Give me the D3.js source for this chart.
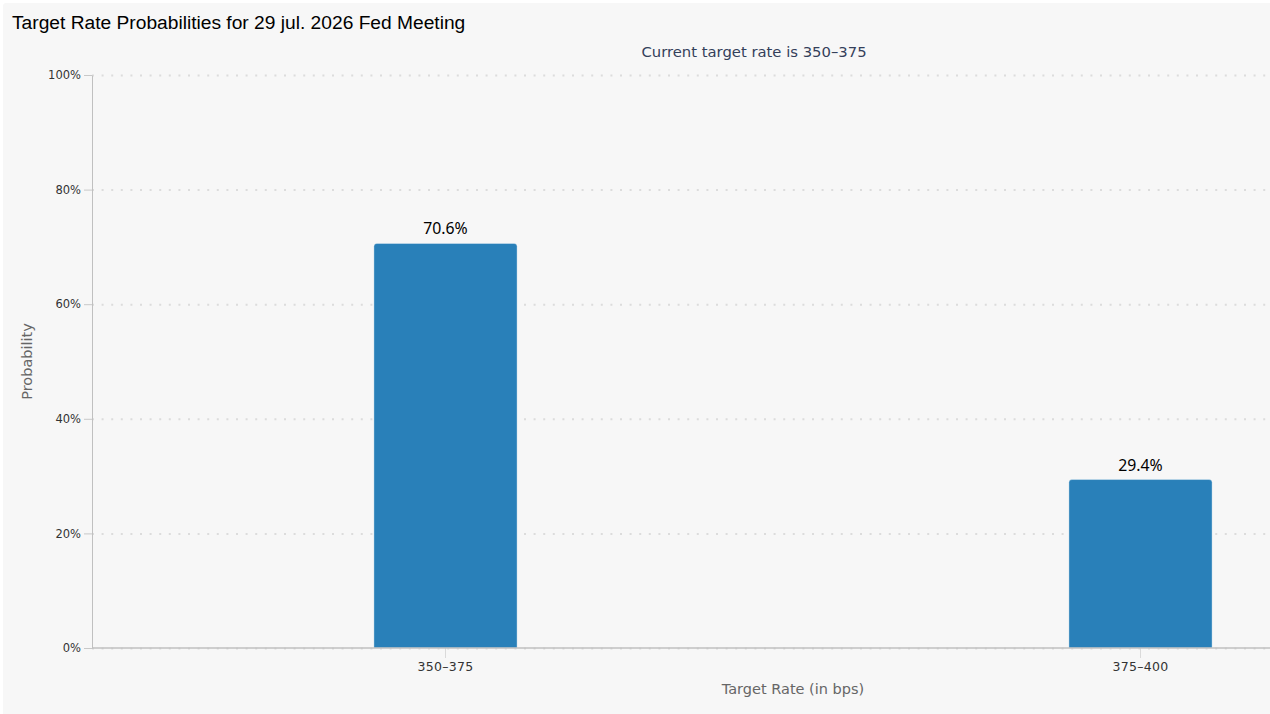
<!DOCTYPE html>
<html>
<head>
<meta charset="utf-8">
<script src="https://cdnjs.cloudflare.com/ajax/libs/d3/7.8.5/d3.min.js"></script>
<style>
  html, body { margin: 0; padding: 0; background: #fff; overflow: hidden; }
  #chart { position: absolute; left: 0; top: 0; }
  .axis text { font-family: "DejaVu Sans", Verdana, sans-serif; fill: #333; }
  .grid line { stroke: #dcdcdc; stroke-width: 2; stroke-dasharray: 2, 7.6; }
  .grid path { display: none; }
</style>
</head>
<body>
<div id="chart"></div>
<script>
// chart values
var categories = ["350–375", "375–400"];
var probabilities = [70.6, 29.4];
var yTicks = [0, 20, 40, 60, 80, 100];

var titleText = "Target Rate Probabilities for 29 jul. 2026 Fed Meeting";
var subtitleText = "Current target rate is 350–375";
var xTitle = "Target Rate (in bps)";
var yTitle = "Probability";

// the original chart is wider than the window and gets cut on the right
var chartWidth = 1508;
var viewW = 1270, viewH = 714;
var axisLeft = 92;
var plot = { left: 98, right: 1488, top: 75, bottom: 648 };

var svg = d3.select("#chart")
  .append("svg")
  .attr("width", viewW)
  .attr("height", viewH);

svg.append("rect")
  .attr("x", 3).attr("y", 3)
  .attr("width", chartWidth).attr("height", viewH)
  .attr("rx", 3)
  .attr("fill", "#f7f7f7");

var x = d3.scaleBand()
  .domain(categories)
  .range([plot.left, plot.right])
  .paddingInner(0.794)
  .paddingOuter(0.397);

var y = d3.scaleLinear()
  .domain([0, 100])
  .range([plot.bottom, plot.top]);

// dotted grid
svg.append("g")
  .attr("class", "grid")
  .attr("transform", `translate(${axisLeft},0)`)
  .call(d3.axisLeft(y)
    .tickValues(yTicks)
    .tickSize(-(chartWidth - axisLeft))
    .tickFormat(""));

// bars
function barPath(x0, y0, w, h, r) {
  return `M${x0},${y0 + h}V${y0 + r}Q${x0},${y0} ${x0 + r},${y0}` +
    `H${x0 + w - r}Q${x0 + w},${y0} ${x0 + w},${y0 + r}V${y0 + h}Z`;
}

var data = categories.map((c, i) => ({ cat: c, value: probabilities[i] }));

svg.selectAll(".bar")
  .data(data)
  .enter()
  .append("path")
  .attr("class", "bar")
  .attr("d", d => barPath(x(d.cat), y(d.value), x.bandwidth(), y(0) - y(d.value), 3))
  .attr("fill", "#2980b9")
  .attr("stroke", "#ffffff")
  .attr("stroke-opacity", 0.35)
  .attr("stroke-width", 1);

svg.selectAll(".bar-label")
  .data(data)
  .enter()
  .append("text")
  .attr("class", "bar-label")
  .attr("x", d => x(d.cat) + x.bandwidth() / 2)
  .attr("y", d => y(d.value) - 9)
  .attr("text-anchor", "middle")
  .attr("font-family", "'Noto Sans', 'Open Sans', sans-serif")
  .attr("font-size", "15.8px")
  .attr("fill", "#000")
  .text(d => d.value.toFixed(1) + "%");

// y axis
var yAxis = svg.append("g")
  .attr("class", "axis y-axis")
  .attr("transform", `translate(${axisLeft},0)`)
  .call(d3.axisLeft(y)
    .tickValues(yTicks)
    .tickSize(8)
    .tickSizeOuter(0)
    .tickPadding(3)
    .tickFormat(d => d + "%"));
yAxis.select(".domain").attr("stroke", "#c0c0c0");
yAxis.selectAll(".tick line").attr("stroke", "#c8c8c8");
yAxis.selectAll("text").attr("font-size", "11.5px");

// x axis
var xAxis = svg.append("g")
  .attr("class", "axis x-axis")
  .attr("transform", `translate(0,${plot.bottom})`)
  .call(d3.axisBottom(x)
    .tickSize(10)
    .tickSizeOuter(0)
    .tickPadding(4));
xAxis.select(".domain").remove();
xAxis.selectAll(".tick line").attr("stroke", "#dadada");
xAxis.selectAll("text").attr("font-size", "12.5px").attr("letter-spacing", "0.3px");

svg.append("line")
  .attr("x1", axisLeft).attr("x2", chartWidth)
  .attr("y1", plot.bottom).attr("y2", plot.bottom)
  .attr("stroke", "#c0c0c0")
  .attr("stroke-width", 1.5);

// titles
svg.append("text")
  .attr("x", 12).attr("y", 29)
  .attr("font-family", "'Liberation Sans', Arial, sans-serif")
  .attr("font-size", "19.2px")
  .attr("fill", "#000")
  .text(titleText);

svg.append("text")
  .attr("x", chartWidth / 2).attr("y", 57)
  .attr("text-anchor", "middle")
  .attr("font-family", "'DejaVu Sans', Verdana, sans-serif")
  .attr("font-size", "14.8px")
  .attr("fill", "#34405a")
  .text(subtitleText);

svg.append("text")
  .attr("x", (plot.left + plot.right) / 2).attr("y", 694)
  .attr("text-anchor", "middle")
  .attr("font-family", "'DejaVu Sans', Verdana, sans-serif")
  .attr("font-size", "14.5px")
  .attr("fill", "#666")
  .text(xTitle);

svg.append("text")
  .attr("transform", `translate(32,${(plot.top + plot.bottom) / 2}) rotate(-90)`)
  .attr("text-anchor", "middle")
  .attr("font-family", "'DejaVu Sans', Verdana, sans-serif")
  .attr("font-size", "14.5px")
  .attr("fill", "#666")
  .text(yTitle);
</script>
</body>
</html>
